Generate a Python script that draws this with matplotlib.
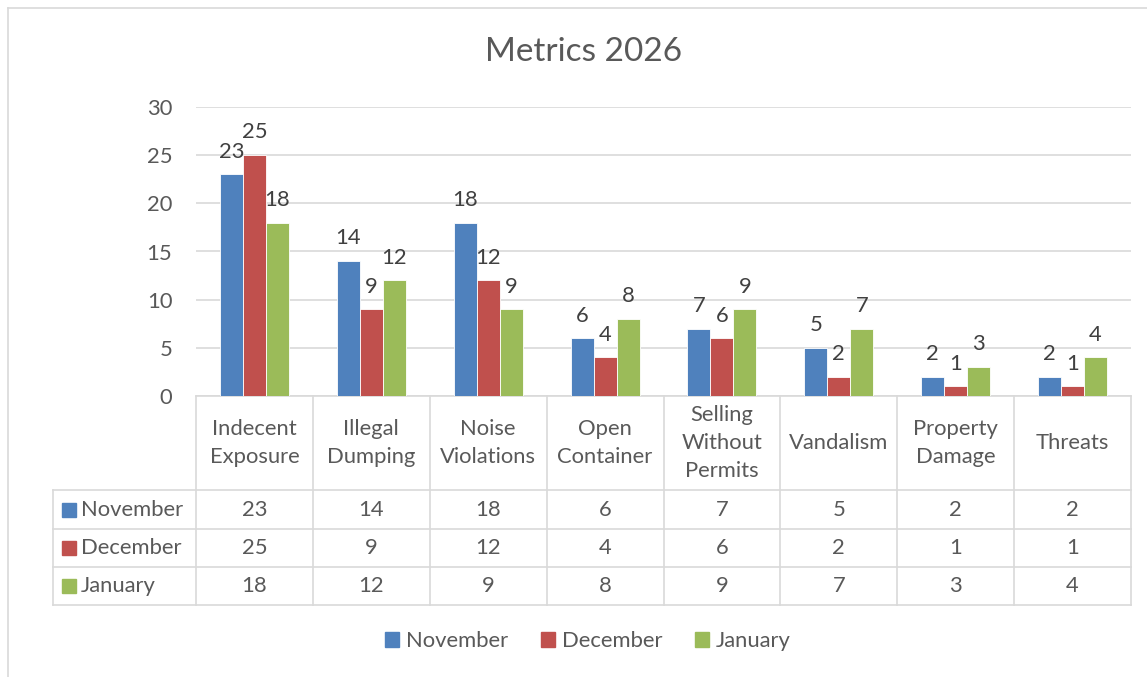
import matplotlib
matplotlib.use('Agg')
import matplotlib.pyplot as plt
from matplotlib.patches import Patch
import numpy as np

# chart data
categories = ['Indecent\nExposure', 'Illegal\nDumping', 'Noise\nViolations', 'Open\nContainer',
              'Selling\nWithout\nPermits', 'Vandalism', 'Property\nDamage', 'Threats']
series_names = ['November', 'December', 'January']
november = [23, 14, 18, 6, 7, 5, 2, 2]
december = [25, 9, 12, 4, 6, 2, 1, 1]
january = [18, 12, 9, 8, 9, 7, 3, 4]
y_ticks = [0, 5, 10, 15, 20, 25, 30]

colors = ['#4F81BD', '#C0504D', '#9BBB59']
text_col = '#595959'
line_col = '#D9D9D9'
fs = 15.8

plt.rcParams['font.family'] = ['Lato', 'DejaVu Sans']

W, H = 1147, 677
fig = plt.figure(figsize=(W / 100, H / 100), dpi=100)

# plot area in pixels
px_left, px_right, px_top, px_bot = 196, 1131, 107, 396
ax = fig.add_axes([px_left / W, 1 - px_bot / H, (px_right - px_left) / W, (px_bot - px_top) / H])

x = np.arange(len(categories))
bw = 0.197
all_series = [november, december, january]
for i, (vals, c) in enumerate(zip(all_series, colors)):
    bars = ax.bar(x + (i - 1) * bw, vals, bw, color=c, edgecolor='white', linewidth=0.6, zorder=3)
    for b, v in zip(bars, vals):
        ax.annotate(str(v), (b.get_x() + b.get_width() / 2, v), xytext=(0, 12),
                    textcoords='offset points', ha='center', va='baseline',
                    fontsize=fs, color='#404040')

ax.set_xlim(-0.5, len(categories) - 0.5)
ax.set_ylim(0, 30)
ax.set_yticks(y_ticks)
ax.set_xticks([])
ax.tick_params(axis='y', length=0, pad=17, labelsize=fs, labelcolor=text_col)
ax.grid(axis='y', color=line_col, linewidth=1.2, zorder=0)
for s in ax.spines.values():
    s.set_visible(False)

# data table below the plot, drawn in axes coordinates
ph = px_bot - px_top
pw = px_right - px_left


def ay(py):
    return (px_bot - py) / ph


def axx(px):
    return (px - px_left) / pw


row_lines = [396, 490, 529, 567, 605]
tab_left = 53
kw = dict(transform=ax.transAxes, clip_on=False, color=line_col, linewidth=1.2)
ax.plot([0, 1], [ay(396), ay(396)], **kw)
for py in row_lines[1:]:
    ax.plot([axx(tab_left), 1], [ay(py), ay(py)], **kw)
ax.plot([axx(tab_left), axx(tab_left)], [ay(490), ay(605)], **kw)
for k in range(len(categories) + 1):
    ax.plot([k / len(categories)] * 2, [ay(396), ay(605)], **kw)

for k, cat in enumerate(categories):
    xc = (k + 0.5) / len(categories)
    ax.text(xc, ay(443), cat, transform=ax.transAxes, ha='center', va='center',
            fontsize=fs, color=text_col, linespacing=1.5)
    for r, vals in enumerate(all_series):
        yc = (row_lines[r + 1] + row_lines[r + 2]) / 2
        ax.text(xc, ay(yc), str(vals[k]), transform=ax.transAxes, ha='center', va='center',
                fontsize=fs, color=text_col)

for r, (name, c) in enumerate(zip(series_names, colors)):
    yc = (row_lines[r + 1] + row_lines[r + 2]) / 2
    fig.patches.append(plt.Rectangle((62 / W, 1 - (yc + 7) / H), 14 / W, 14 / H,
                                     transform=fig.transFigure, color=c))
    fig.text(81 / W, 1 - yc / H, name, ha='left', va='center', fontsize=fs, color=text_col)

# title
fig.text(584 / W, 1 - 52 / H, 'Metrics 2026', ha='center', va='center', fontsize=24, color=text_col)

# legend
handles = [Patch(color=c) for c in colors]
fig.legend(handles, series_names, loc='center', bbox_to_anchor=(588 / W, 1 - 641 / H), ncol=3,
           frameon=False, fontsize=fs, labelcolor=text_col, handlelength=0.65, handleheight=0.65,
           handletextpad=0.3, columnspacing=1.5)

# chart area border (left and top visible)
fig.add_artist(plt.Line2D([8 / W, 8 / W], [0, 1 - 8 / H], color=line_col, linewidth=1.2))
fig.add_artist(plt.Line2D([8 / W, 1], [1 - 8 / H, 1 - 8 / H], color=line_col, linewidth=1.2))

fig.savefig('out.png', dpi=100, facecolor='white')
